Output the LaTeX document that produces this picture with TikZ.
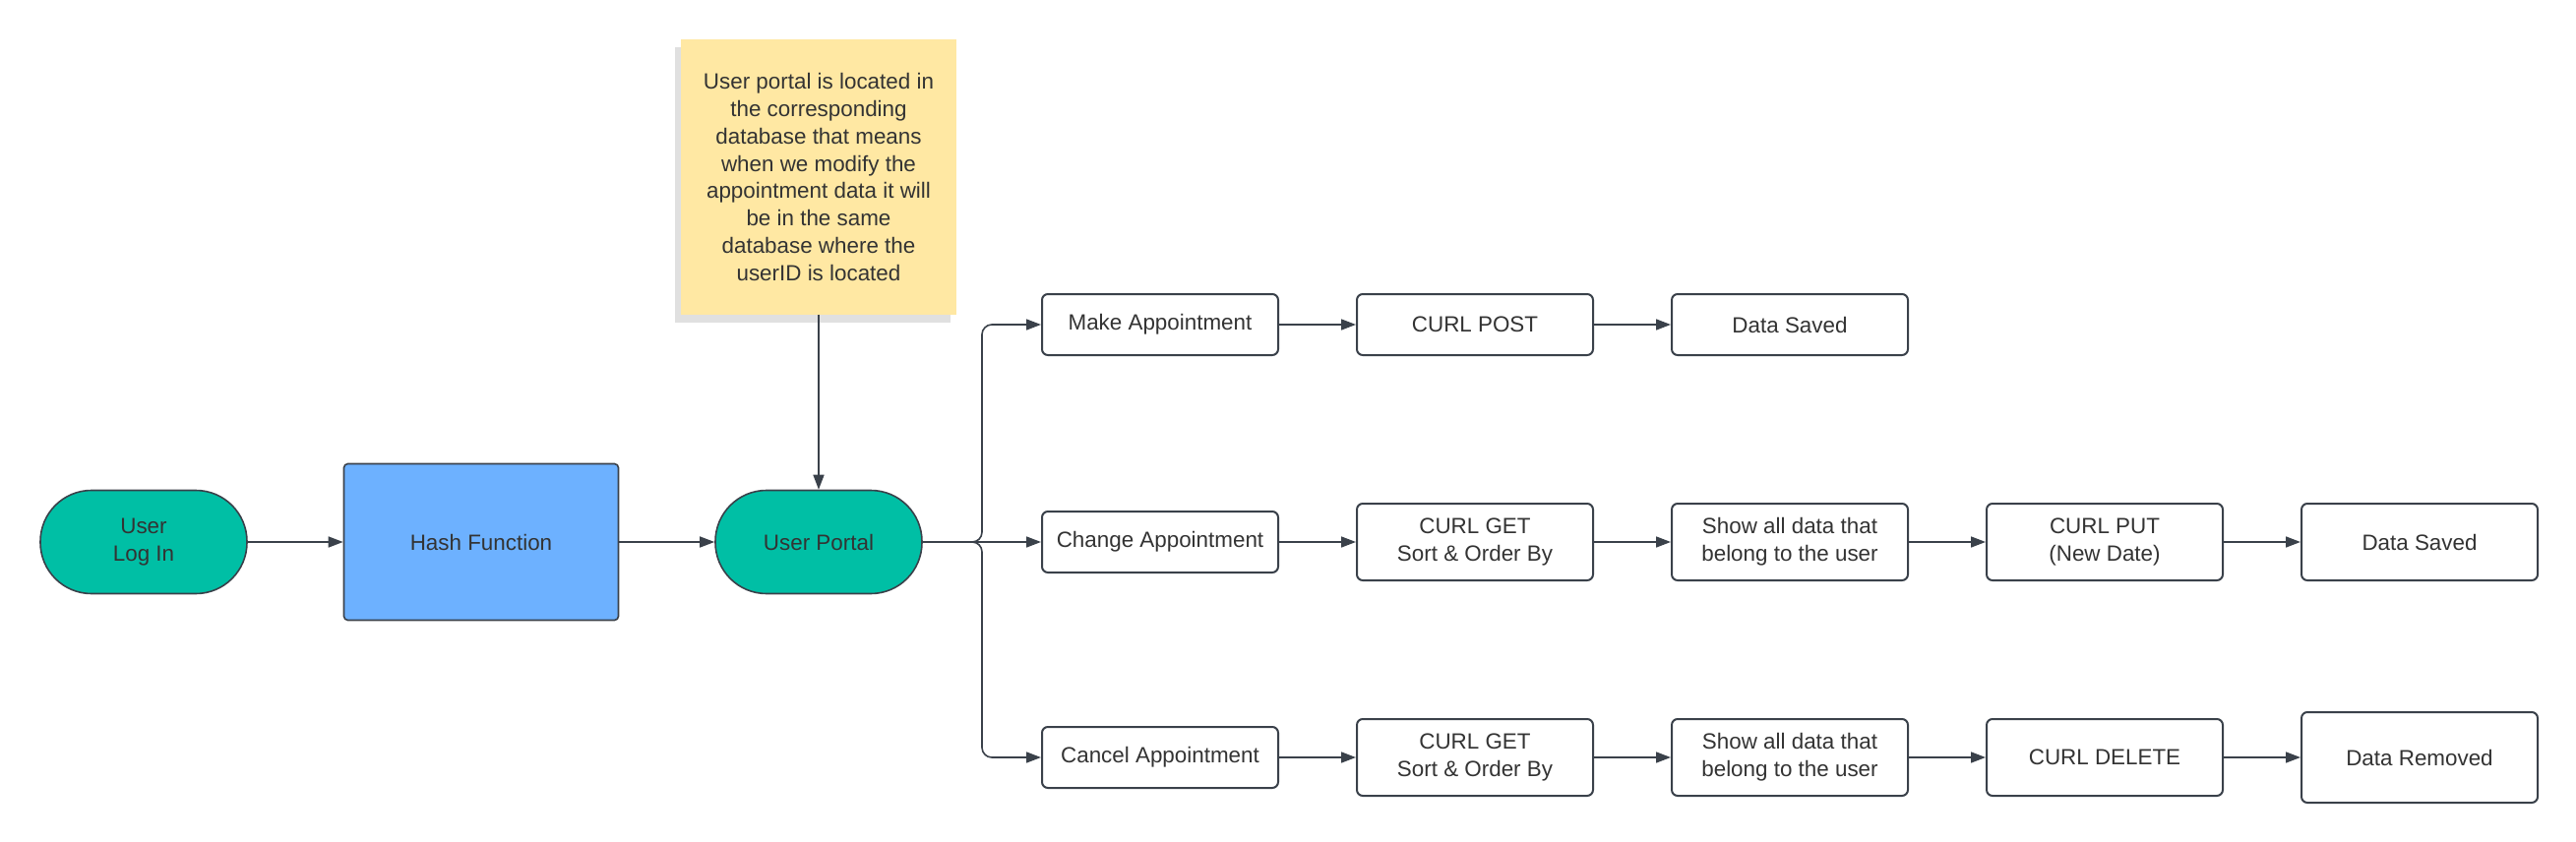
\documentclass[tikz,border=0pt]{standalone}
\usepackage{fontspec}
\setmainfont{Liberation Sans}
\usetikzlibrary{arrows.meta,shadows}

\definecolor{ink}{HTML}{3A414A}
\definecolor{txt}{HTML}{333333}
\definecolor{portalgreen}{HTML}{00BFA5}
\definecolor{hashblue}{HTML}{6DB1FF}
\definecolor{sticky}{HTML}{FFE8A3}

\tikzset{
  base/.style={text=txt, font=\fontsize{11.2}{13.9}\selectfont, align=center, inner sep=0pt},
  terminal/.style={base, draw=ink, line width=0.8pt, fill=portalgreen,
    minimum width=105pt, minimum height=52.5pt, rounded corners=26pt},
  hashbox/.style={base, draw=ink, line width=0.8pt, fill=hashblue,
    minimum width=139.5pt, minimum height=79.5pt, rounded corners=2pt},
  stepbox/.style={base, draw=ink, line width=1pt, fill=white,
    minimum width=120pt, minimum height=31pt, rounded corners=3pt},
  tallbox/.style={stepbox, minimum height=39pt},
  notebox/.style={base, fill=sticky, minimum width=140pt, minimum height=139.5pt,
    drop shadow={shadow xshift=-3pt, shadow yshift=-4pt, fill=black, opacity=0.12}},
  link/.style={draw=ink, line width=0.8pt, -{Triangle[length=7.5pt,width=5.5pt]}}
}

\begin{document}
\begin{tikzpicture}[x=0.5pt,y=-0.5pt]
  \useasboundingbox (0,0) rectangle (2618,856);

  % note above the portal
  \node[notebox] (note) at (832,180) {User portal is located in\\the corresponding\\database that means\\when we modify the\\appointment data it will\\be in the same\\database where the\\userID is located};

  % login chain
  \node[terminal] (login) at (146,551) {User\\Log In};
  \node[hashbox] (hash) at (489,551) {Hash Function};
  \node[terminal] (portal) at (832,551) {User Portal};

  % make appointment
  \node[stepbox] (make) at (1179,330) {Make Appointment};
  \node[stepbox] (post) at (1499,330) {CURL POST};
  \node[stepbox] (saveda) at (1819,330) {Data Saved};

  % change appointment
  \node[stepbox] (change) at (1179,551) {Change Appointment};
  \node[tallbox] (geta) at (1499,551) {CURL GET\\Sort \& Order By};
  \node[tallbox] (showa) at (1819,551) {Show all data that\\belong to the user};
  \node[tallbox] (put) at (2139,551) {CURL PUT\\(New Date)};
  \node[tallbox] (savedb) at (2459,551) {Data Saved};

  % cancel appointment
  \node[stepbox] (cancel) at (1179,770) {Cancel Appointment};
  \node[tallbox] (getb) at (1499,770) {CURL GET\\Sort \& Order By};
  \node[tallbox] (showb) at (1819,770) {Show all data that\\belong to the user};
  \node[tallbox] (delete) at (2139,770) {CURL DELETE};
  \node[tallbox, minimum height=46pt] (removed) at (2459,770) {Data Removed};

  \foreach \a/\b in {login/hash, hash/portal, note/portal, portal/change,
                     make/post, post/saveda,
                     change/geta, geta/showa, showa/put, put/savedb,
                     cancel/getb, getb/showb, showb/delete, delete/removed} {
    \draw[link] (\a) -- (\b);
  }

  \coordinate (fork) at (998,551);
  \draw[link, rounded corners=5pt] (portal.east) -- (fork) |- (make.west);
  \draw[link, rounded corners=5pt] (portal.east) -- (fork) |- (cancel.west);
\end{tikzpicture}
\end{document}
